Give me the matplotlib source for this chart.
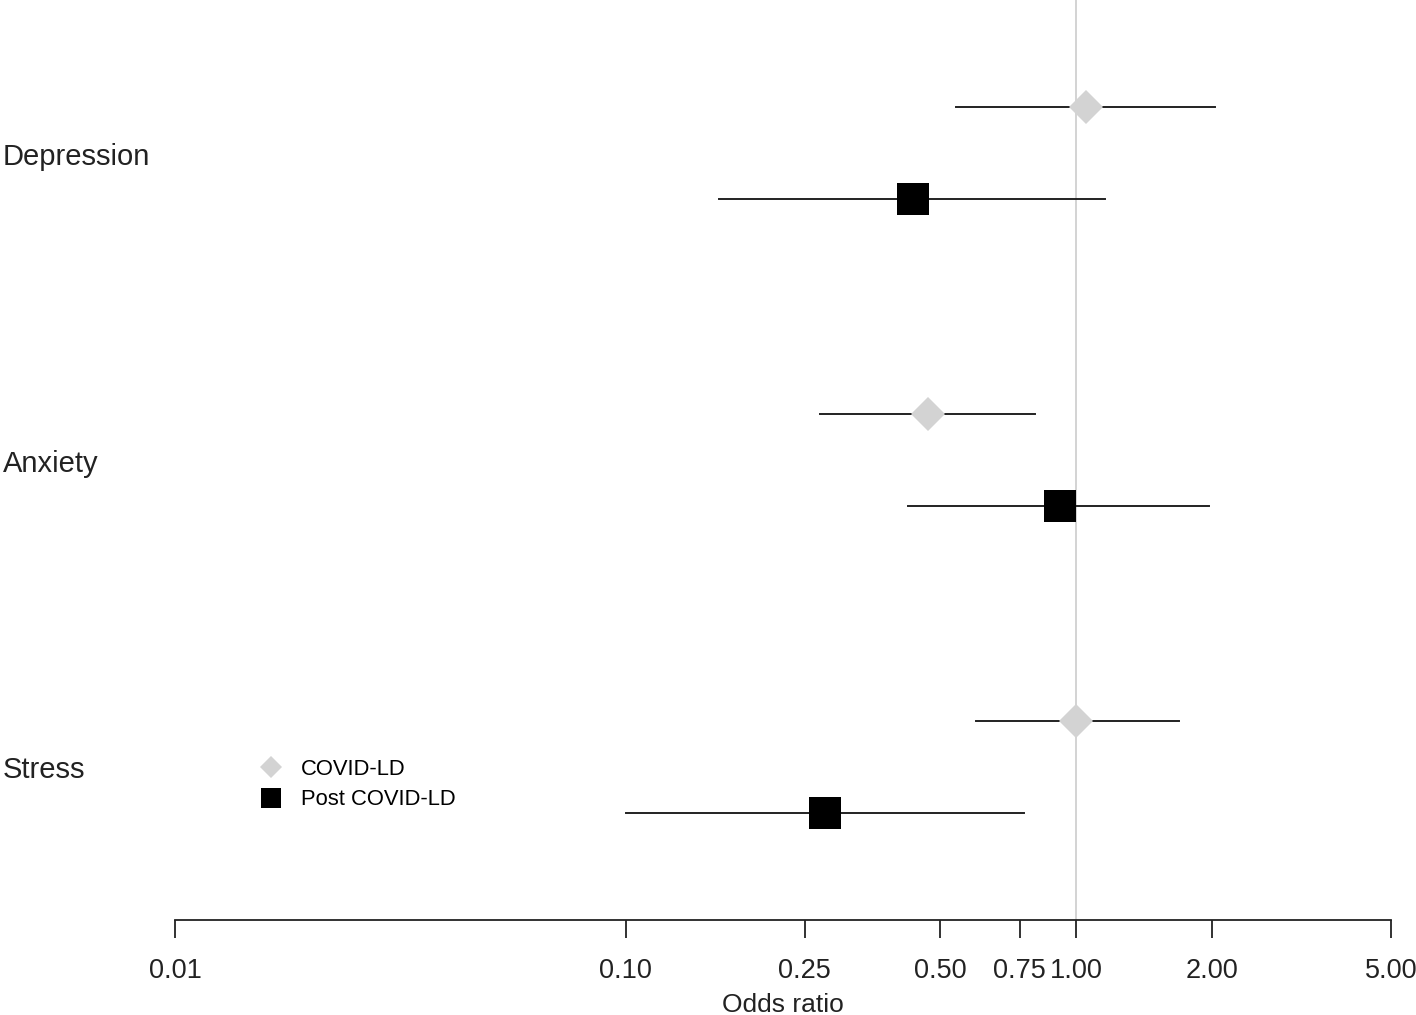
import numpy as np
import matplotlib.pyplot as plt
from matplotlib.lines import Line2D
from matplotlib.transforms import blended_transform_factory

plt.rcParams['font.family'] = ['Liberation Sans', 'DejaVu Sans']

### DATA ###
outcomes = ['Depression', 'Anxiety', 'Stress']
covid_or = [1.05, 0.47, 1.00]
covid_lo = [0.54, 0.27, 0.60]
covid_hi = [2.03, 0.81, 1.69]
post_or = [0.435, 0.92, 0.277]
post_lo = [0.161, 0.424, 0.10]
post_hi = [1.16, 1.97, 0.767]
tick_vals = [0.01, 0.10, 0.25, 0.50, 0.75, 1.00, 2.00, 5.00]
tick_labels = ['0.01', '0.10', '0.25', '0.50', '0.75', '1.00', '2.00', '5.00']

### PLOT ###
W, H = 1416, 1015
fig = plt.figure(figsize=(W / 100, H / 100), dpi=100)
ax = fig.add_axes([175 / W, 1 - 920 / H, (1391 - 175) / W, 920 / H])

pos = np.arange(len(outcomes))
off = 0.15

ax.axvline(1.0, color='#d3d3d3', lw=1.4, zorder=1)

for i in pos:
    ax.plot([covid_lo[i], covid_hi[i]], [i - off, i - off], color='#222222', lw=1.4, zorder=2)
    ax.plot([post_lo[i], post_hi[i]], [i + off, i + off], color='#222222', lw=1.4, zorder=2)

ax.plot(covid_or, pos - off, 'D', color='#d3d3d3', ms=17, mew=0, ls='none', zorder=3)
ax.plot(post_or, pos + off, 's', color='black', ms=23.5, mew=0, ls='none', zorder=3)

ax.set_xscale('log')
ax.set_xlim(0.01, 5.0)
ax.set_ylim(2.5, -0.5)
ax.set_xticks(tick_vals)
ax.set_xticklabels(tick_labels)
ax.minorticks_off()
ax.tick_params(axis='x', length=13, width=1.3, pad=14, labelsize=19.5, colors='#222222')
ax.set_yticks([])

for s in ['top', 'right', 'left']:
    ax.spines[s].set_visible(False)
ax.spines['bottom'].set_linewidth(1.3)
ax.spines['bottom'].set_color('#222222')
ax.set_xlabel('Odds ratio', fontsize=19, color='#222222', labelpad=7)

trans = blended_transform_factory(fig.transFigure, ax.transData)
for i, name in enumerate(outcomes):
    ax.text(3 / W, i + 0.012, name, transform=trans, fontsize=21, color='#222222',
            ha='left', va='center')

handles = [Line2D([], [], marker='D', color='#d3d3d3', ms=11, mew=0, ls='none'),
           Line2D([], [], marker='s', color='black', ms=14, mew=0, ls='none')]
fig.legend(handles, ['COVID-LD', 'Post COVID-LD'], loc='upper left',
           bbox_to_anchor=(247 / W, 1 - 748 / H), frameon=False, fontsize=15.8,
           handletextpad=0.75, labelspacing=0.42, handlelength=1.2, borderpad=0)

fig.savefig('out.png', dpi=100)
